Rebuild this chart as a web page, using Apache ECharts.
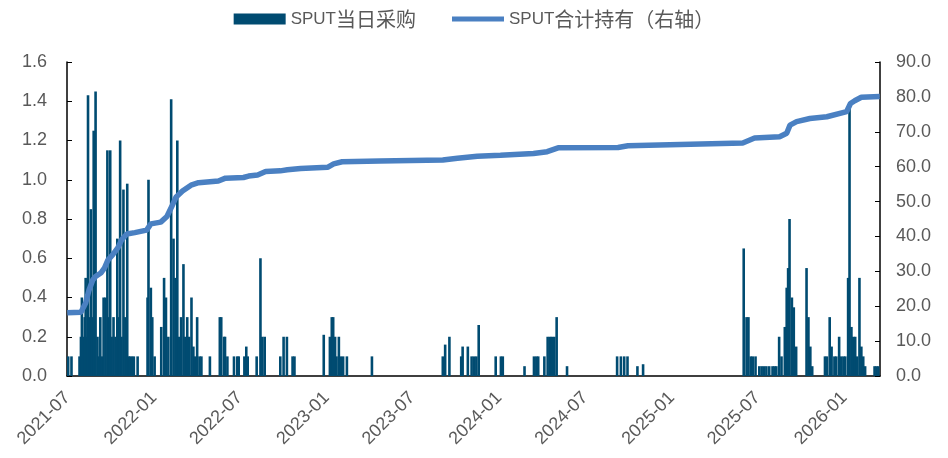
<!DOCTYPE html>
<html>
<head>
<meta charset="utf-8">
<script src="https://cdn.jsdelivr.net/npm/echarts@6/dist/echarts.min.js"></script>
<style>
  html, body { margin: 0; padding: 0; background: #fff; }
  #chart { width: 948px; height: 458px; }
</style>
</head>
<body>
<div id="chart"></div>
<script>
// 每日采购（百万磅）
var buyDates = [
  '2021-07-03','2021-07-10','2021-07-27','2021-07-30','2021-08-01','2021-08-04','2021-08-07','2021-08-09',
  '2021-08-11','2021-08-14','2021-08-17','2021-08-20','2021-08-22','2021-08-26','2021-08-30','2021-09-03',
  '2021-09-06','2021-09-09','2021-09-12','2021-09-16','2021-09-20','2021-09-24','2021-09-27','2021-09-30',
  '2021-10-03','2021-10-07','2021-10-11','2021-10-15','2021-10-18','2021-10-21','2021-10-24','2021-10-28',
  '2021-11-01','2021-11-05','2021-11-08','2021-11-11','2021-11-15','2021-11-19','2021-11-27','2021-12-18',
  '2021-12-20','2021-12-25','2021-12-28','2022-01-02','2022-01-16','2022-01-22','2022-01-26','2022-01-31',
  '2022-02-06','2022-02-11','2022-02-15','2022-02-19','2022-02-23','2022-02-27','2022-03-04','2022-03-08',
  '2022-03-12','2022-03-16','2022-03-21','2022-03-25','2022-03-29','2022-04-02','2022-04-07','2022-04-11',
  '2022-04-29','2022-05-20','2022-05-23','2022-05-29','2022-05-31','2022-06-05','2022-06-19','2022-06-26',
  '2022-06-29','2022-07-11','2022-07-15','2022-07-18','2022-08-06','2022-08-14','2022-08-18','2022-08-23',
  '2022-09-25','2022-10-02','2022-10-09','2022-10-21','2022-10-25','2022-12-26','2023-01-08','2023-01-12',
  '2023-01-15','2023-01-19','2023-01-22','2023-01-27','2023-01-31','2023-02-05','2023-02-13','2023-04-07',
  '2023-09-04','2023-09-09','2023-09-18','2023-10-13','2023-10-16','2023-10-27','2023-11-04','2023-11-09',
  '2023-11-14','2023-11-19','2023-12-25','2024-01-05','2024-01-09','2024-02-24','2024-03-15','2024-03-20',
  '2024-03-24','2024-04-06','2024-04-13','2024-04-18','2024-04-22','2024-04-27','2024-05-02','2024-05-24',
  '2024-09-07','2024-09-15','2024-09-22','2024-09-29','2024-10-20','2024-11-01','2025-06-02','2025-06-08',
  '2025-06-12','2025-06-17','2025-06-21','2025-06-27','2025-07-05','2025-07-10','2025-07-15','2025-07-20',
  '2025-07-26','2025-08-02','2025-08-06','2025-08-10','2025-08-16','2025-08-21','2025-08-28','2025-09-01',
  '2025-09-04','2025-09-07','2025-09-12','2025-09-16','2025-09-21','2025-10-13','2025-10-17','2025-10-21',
  '2025-10-25','2025-11-21','2025-11-25','2025-12-01','2025-12-05','2025-12-11','2025-12-15','2025-12-21',
  '2025-12-25','2025-12-30','2026-01-03','2026-01-09','2026-01-12','2026-01-16','2026-01-20','2026-01-24',
  '2026-01-28','2026-02-02','2026-02-06','2026-02-10','2026-02-14','2026-03-06','2026-03-10','2026-03-14'
];
var buyValues = [
  0.1, 0.1, 0.1, 0.2, 0.4, 0.2, 0.3, 0.5,
  0.2, 1.43, 0.3, 0.85, 0.3, 1.25, 1.45, 0.2,
  0.1, 0.3, 0.1, 0.4, 0.4, 1.15, 0.3, 1.15,
  0.2, 0.3, 0.2, 0.7, 0.3, 1.2, 0.2, 0.95,
  0.3, 0.98, 0.1, 0.1, 0.1, 0.1, 0.1, 0.4,
  1.0, 0.45, 0.3, 0.1, 0.25, 0.5, 0.4, 0.2,
  1.41, 0.7, 0.5, 1.2, 0.2, 0.3, 0.57, 0.2,
  0.3, 0.2, 0.4, 0.15, 0.1, 0.3, 0.1, 0.1,
  0.1, 0.3, 0.3, 0.2, 0.2, 0.1, 0.1, 0.1,
  0.1, 0.1, 0.15, 0.1, 0.1, 0.6, 0.2, 0.2,
  0.1, 0.2, 0.2, 0.1, 0.1, 0.21, 0.2, 0.3,
  0.3, 0.2, 0.1, 0.2, 0.1, 0.1, 0.1, 0.1,
  0.1, 0.16, 0.2, 0.1, 0.15, 0.15, 0.1, 0.1,
  0.1, 0.26, 0.1, 0.1, 0.1, 0.05, 0.1, 0.1,
  0.1, 0.1, 0.2, 0.2, 0.2, 0.2, 0.3, 0.05,
  0.1, 0.1, 0.1, 0.1, 0.05, 0.06, 0.65, 0.3,
  0.3, 0.1, 0.1, 0.1, 0.05, 0.05, 0.05, 0.05,
  0.05, 0.05, 0.05, 0.05, 0.2, 0.1, 0.25, 0.45,
  0.55, 0.8, 0.4, 0.35, 0.15, 0.55, 0.3, 0.15,
  0.05, 0.1, 0.1, 0.3, 0.15, 0.1, 0.1, 0.2,
  0.1, 0.1, 0.1, 0.5, 1.36, 0.25, 0.2, 0.2,
  0.1, 0.5, 0.15, 0.1, 0.05, 0.05, 0.05, 0.05
];

// 合计持有（百万磅，右轴）
var holdDates = [
  '2021-07-01','2021-07-30','2021-08-09','2021-08-16','2021-08-24','2021-08-30','2021-09-10','2021-09-18',
  '2021-09-25','2021-10-05','2021-10-16','2021-10-24','2021-11-04','2021-11-21','2021-12-16','2021-12-25',
  '2022-01-15','2022-01-28','2022-02-07','2022-02-16','2022-03-02','2022-03-20','2022-04-05','2022-05-17',
  '2022-06-01','2022-07-09','2022-07-20','2022-08-08','2022-08-25','2022-09-25','2022-10-10','2022-11-07',
  '2023-01-03','2023-01-16','2023-02-03','2023-04-24','2023-09-04','2023-10-05','2023-11-16','2024-01-04',
  '2024-03-14','2024-04-12','2024-05-05','2024-09-09','2024-09-30','2025-05-31','2025-06-25','2025-08-17',
  '2025-09-01','2025-09-08','2025-09-22','2025-10-20','2025-11-25','2026-01-06','2026-01-14','2026-01-23',
  '2026-02-06','2026-03-17'
];
var holdValues = [
  18.1, 18.3, 20.9, 24.6, 27.5, 28.5, 29.5, 31.0,
  33.2, 34.7, 36.7, 39.0, 40.7, 41.1, 41.8, 43.6,
  44.1, 45.7, 48.5, 51.2, 53.0, 54.7, 55.4, 55.9,
  56.7, 56.9, 57.3, 57.6, 58.6, 58.8, 59.1, 59.5,
  59.8, 60.8, 61.4, 61.6, 61.9, 62.4, 63.0, 63.3,
  63.8, 64.3, 65.4, 65.5, 66.0, 66.8, 68.2, 68.6,
  69.6, 71.9, 72.9, 73.8, 74.3, 75.8, 78.1, 78.9,
  79.9, 80.1
];

var startDate = '2021-07-01';
var endDate = '2026-03-17';

function fmt(d) {
  return d.toISOString().slice(0, 10);
}
var days = [];
for (var t = new Date(startDate + 'T00:00:00Z'); fmt(t) <= endDate; t.setUTCDate(t.getUTCDate() + 1)) {
  days.push(fmt(t));
}
function isHalfYear(idx, name) {
  return /-(01|07)-01$/.test(name);
}

var chart = echarts.init(document.getElementById('chart'));
var txt = '#595959';
var ff = '"Liberation Sans", Arial, "Noto Sans CJK SC", sans-serif';
// 图例里的线：上下留空的细长条
var lineIcon = 'path://M0,0L0.01,0L0.01,0.01ZM0,3L52,3L52,8L0,8ZM0,11L0.01,11L0.01,10.99Z';

chart.setOption({
  animation: false,
  textStyle: { fontFamily: ff },
  legend: {
    top: 4,
    left: 'center',
    itemGap: 36,
    itemWidth: 52,
    itemHeight: 11,
    textStyle: {
      color: txt,
      fontSize: 17,
      fontFamily: ff,
      rich: {
        a: { color: txt, fontSize: 17, fontFamily: ff },
        b: { color: txt, fontSize: 20, fontFamily: '"Noto Sans CJK SC", sans-serif' }
      }
    },
    formatter: function (name) {
      return '{a|SPUT}{b|' + name.slice(4) + '}';
    },
    data: [
      { name: 'SPUT当日采购', icon: 'rect' },
      { name: 'SPUT合计持有（右轴）', icon: lineIcon }
    ]
  },
  grid: { left: 67, right: 68, top: 62, bottom: 82 },
  xAxis: {
    type: 'category',
    data: days,
    axisLine: { lineStyle: { color: '#000', width: 1.5 } },
    axisTick: { inside: true, length: 5, interval: isHalfYear, lineStyle: { color: '#595959' } },
    axisLabel: {
      interval: isHalfYear,
      rotate: 45,
      color: txt,
      fontSize: 18,
      margin: 19,
      formatter: function (v) { return v.slice(0, 7); }
    },
    splitLine: { show: false }
  },
  yAxis: [
    {
      type: 'value',
      min: 0, max: 1.6, interval: 0.2,
      axisLine: { show: true, lineStyle: { color: '#000', width: 1.5 } },
      axisTick: { show: true, inside: true, length: 5, lineStyle: { color: '#000' } },
      axisLabel: { color: txt, fontSize: 18, margin: 20, formatter: function (v) { return v.toFixed(1); } },
      splitLine: { show: false }
    },
    {
      type: 'value',
      min: 0, max: 90, interval: 10,
      axisLine: { show: true, lineStyle: { color: '#000', width: 1.5 } },
      axisTick: { show: true, inside: true, length: 5, lineStyle: { color: '#000' } },
      axisLabel: { color: txt, fontSize: 18, margin: 16, formatter: function (v) { return v.toFixed(1); } },
      splitLine: { show: false }
    }
  ],
  series: [
    {
      name: 'SPUT当日采购',
      type: 'bar',
      barWidth: 2.6,
      itemStyle: { color: '#004B71' },
      data: buyDates.map(function (d, i) { return [d, buyValues[i]]; })
    },
    {
      name: 'SPUT合计持有（右轴）',
      type: 'line',
      yAxisIndex: 1,
      symbol: 'none',
      lineStyle: { color: '#4A80C2', width: 5.5 },
      itemStyle: { color: '#4A80C2' },
      data: holdDates.map(function (d, i) { return [d, holdValues[i]]; })
    }
  ]
});
</script>
</body>
</html>
